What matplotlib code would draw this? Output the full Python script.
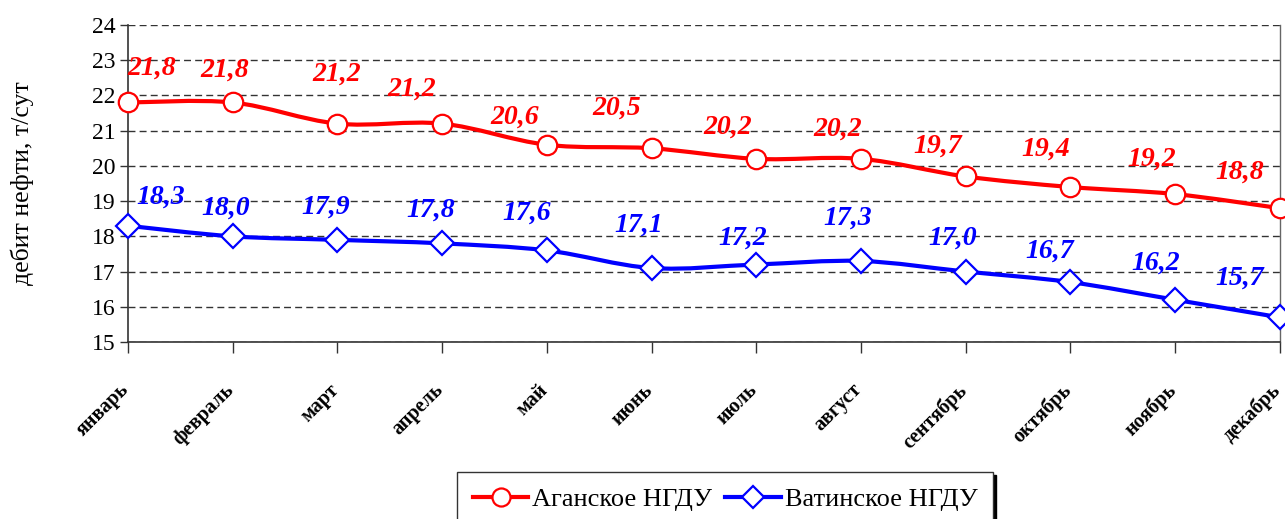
import matplotlib
matplotlib.use("Agg")
import matplotlib.pyplot as plt
import numpy as np
from matplotlib.path import Path
from matplotlib.patches import PathPatch
from matplotlib.lines import Line2D

plt.rcParams['font.family'] = ['Liberation Serif', 'DejaVu Serif']

months = ["январь", "февраль", "март", "апрель", "май", "июнь",
          "июль", "август", "сентябрь", "октябрь", "ноябрь", "декабрь"]
agan = [21.8, 21.8, 21.2, 21.2, 20.6, 20.5, 20.2, 20.2, 19.7, 19.4, 19.2, 18.8]
vatin = [18.3, 18.0, 17.9, 17.8, 17.6, 17.1, 17.2, 17.3, 17.0, 16.7, 16.2, 15.7]
agan_lbl = ["21,8", "21,8", "21,2", "21,2", "20,6", "20,5", "20,2", "20,2", "19,7", "19,4", "19,2", "18,8"]
vatin_lbl = ["18,3", "18,0", "17,9", "17,8", "17,6", "17,1", "17,2", "17,3", "17,0", "16,7", "16,2", "15,7"]

# label offsets in pixels (dx, dy) - hand placed like in the original
agan_off = [(24, 34), (-8, 32), (-1, 49), (-30, 34), (-32, 28), (-35, 40),
            (-29, 32), (-23, 30), (-28, 30), (-25, 38), (-23, 35), (-40, 36)]
vatin_off = [(33, 29), (-7, 28), (-12, 33), (-11, 33), (-20, 37), (-13, 43),
             (-14, 26), (-13, 43), (-13, 33), (-21, 31), (-19, 37), (-40, 39)]


def smooth_path(x, y):
    # Excel-like smoothed line: Catmull-Rom as cubic bezier pieces
    p = np.column_stack([x, y]).astype(float)
    pp = np.vstack([p[0], p, p[-1]])
    verts = [p[0]]
    codes = [Path.MOVETO]
    for i in range(len(p) - 1):
        p0, p1, p2, p3 = pp[i], pp[i + 1], pp[i + 2], pp[i + 3]
        c1 = p1 + (p2 - p0) / 6
        c2 = p2 - (p3 - p1) / 6
        verts += [c1, c2, p2]
        codes += [Path.CURVE4] * 3
    return Path(verts, codes)


fig = plt.figure(figsize=(12.85, 5.19), dpi=100)
ax = fig.add_axes([128 / 1285, 1 - 342 / 519, (1279.7 - 128) / 1285, (342 - 25) / 519])

x = np.arange(len(months))
for vals, col, mk, lbls, offs in [(agan, 'red', 'o', agan_lbl, agan_off),
                                  (vatin, 'blue', 'D', vatin_lbl, vatin_off)]:
    ax.add_patch(PathPatch(smooth_path(x, vals), facecolor='none', edgecolor=col,
                           lw=3, zorder=3, clip_on=False))
    ax.plot(x, vals, ls='none', marker=mk, ms=14 if mk == 'o' else 12,
            mfc='white', mec=col, mew=1.6, zorder=4, clip_on=False)
    for xi, v, t, (dx, dy) in zip(x, vals, lbls, offs):
        ax.annotate(t, (xi, v), xytext=(dx, dy), textcoords='offset pixels',
                    ha='center', va='center', color=col, fontsize=20,
                    fontweight='bold', fontstyle='italic', zorder=5)

ax.set_xlim(0, 11)
ax.set_ylim(15, 24)
ax.set_yticks(range(15, 25))
ax.set_xticks(x)
ax.set_xticklabels([])
# month names drawn as rotated annotations, pulled a bit left of each tick
for xi, m in zip(x, months):
    ax.annotate(m, (xi, 0), xycoords=('data', 'axes fraction'),
                xytext=(-9, -38), textcoords='offset pixels',
                rotation=45, rotation_mode='anchor', ha='right', va='top',
                fontsize=14.5, fontweight='bold', annotation_clip=False)
ax.tick_params(axis='x', length=8, width=1, color='#333333')
ax.tick_params(axis='y', length=6, width=1, color='#333333', labelsize=17, pad=3)
ax.grid(axis='y', color='#333333', ls=(0, (5, 3)), lw=1)
ax.set_axisbelow(True)
ax.spines['top'].set_visible(False)
for s in ['left', 'bottom']:
    ax.spines[s].set_color('#333333')
    ax.spines[s].set_linewidth(1.2)
ax.spines['right'].set_color('#666666')
ax.spines['right'].set_linewidth(1)
ax.set_ylabel("дебит нефти, т/сут", fontsize=18.5)
ax.yaxis.set_label_coords(-0.082, 0.5)

handles = [Line2D([], [], color='red', lw=3, marker='o', ms=13, mfc='white', mec='red', mew=1.6),
           Line2D([], [], color='blue', lw=3, marker='D', ms=11, mfc='white', mec='blue', mew=1.6)]
leg = fig.legend(handles, ["Аганское НГДУ", "Ватинское НГДУ"], ncol=2,
                 loc='upper left', bbox_to_anchor=(457 / 1285, 1 - 472 / 519),
                 borderaxespad=0, fontsize=19, frameon=True, fancybox=False,
                 borderpad=0.6, handlelength=2.1, handletextpad=0.15,
                 columnspacing=0.5,
                 shadow={'color': 'black', 'alpha': 1})
leg.get_frame().set_edgecolor('#333333')
leg.get_frame().set_linewidth(1)

fig.savefig("out.png", dpi=100)
